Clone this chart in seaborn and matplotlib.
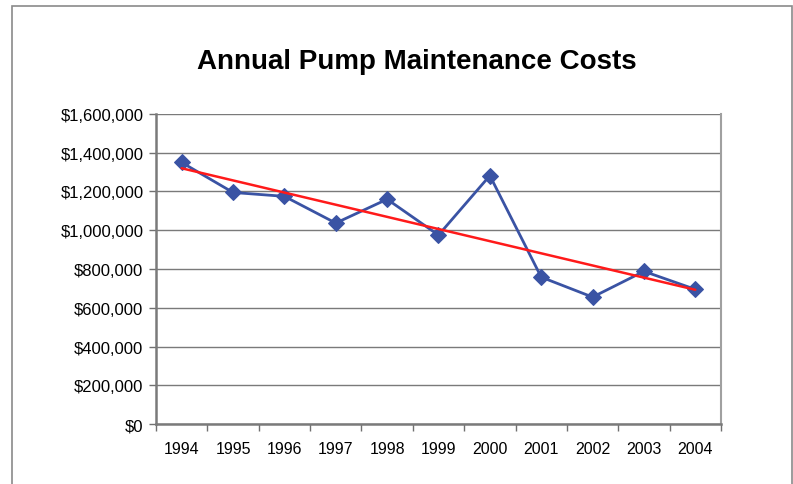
import numpy as np
import pandas as pd
import matplotlib
matplotlib.use("Agg")
import matplotlib.pyplot as plt
import seaborn as sns
from matplotlib.patches import Rectangle
from matplotlib.ticker import FuncFormatter, FixedLocator

# Data
years = ["1994", "1995", "1996", "1997", "1998", "1999", "2000", "2001", "2002", "2003", "2004"]
costs = [1350000, 1195000, 1175000, 1037000, 1160000, 975000, 1282000, 758000, 655000, 788000, 695000]

df = pd.DataFrame({"pos": np.arange(len(years)), "cost": costs})

sns.set_style("white")
plt.rcParams["font.family"] = ["Liberation Sans", "DejaVu Sans"]

fig = plt.figure(figsize=(7.93, 4.85), dpi=100)
ax = fig.add_axes([0.1967, 0.1237, 0.7125, 0.6392])

# outer chart border
fig.patches.append(Rectangle((0.015, -0.05), 0.9835, 1.0356, transform=fig.transFigure,
                             fill=False, edgecolor="#8a8a8a", linewidth=1.2))

# data series and linear trend
sns.lineplot(data=df, x="pos", y="cost", ax=ax, color="#3A53A4", linewidth=2,
             marker="D", markersize=8, markeredgecolor="#3A53A4", zorder=3)
sns.regplot(data=df, x="pos", y="cost", ax=ax, scatter=False, ci=None,
            line_kws={"color": "#FF1A1A", "linewidth": 1.8, "zorder": 4})

ax.set_xlim(-0.5, len(years) - 0.5)
ax.set_ylim(0, 1600000)
ax.set_yticks(np.arange(0, 1600001, 200000))
ax.yaxis.set_major_formatter(FuncFormatter(lambda v, p: f"${v:,.0f}"))
ax.set_xticks(df["pos"])
ax.set_xticklabels(years)
ax.xaxis.set_minor_locator(FixedLocator(np.arange(-0.5, len(years), 1.0)))
ax.tick_params(axis="x", which="major", bottom=True, length=0, pad=12, labelsize=11.5,
               labelcolor="black")
ax.tick_params(axis="x", which="minor", bottom=True, length=5, width=1, color="#707070",
               direction="out")
ax.tick_params(axis="y", left=True, length=5, width=1, color="#707070", direction="out",
               labelsize=12, pad=4, labelcolor="black")

ax.grid(axis="y", color="#7a7a7a", linewidth=1)
ax.set_axisbelow(True)
for side in ["left", "bottom"]:
    ax.spines[side].set_color("#7a7a7a")
    ax.spines[side].set_linewidth(1.8)
ax.spines["right"].set_color("#a0a0a0")
ax.spines["right"].set_linewidth(1.5)
ax.spines["top"].set_visible(False)

ax.set_xlabel("")
ax.set_ylabel("")
fig.text(0.525, 0.873, "Annual Pump Maintenance Costs", ha="center", va="center",
         fontsize=20, fontweight="bold", color="black")

fig.savefig("out.png", dpi=100)
